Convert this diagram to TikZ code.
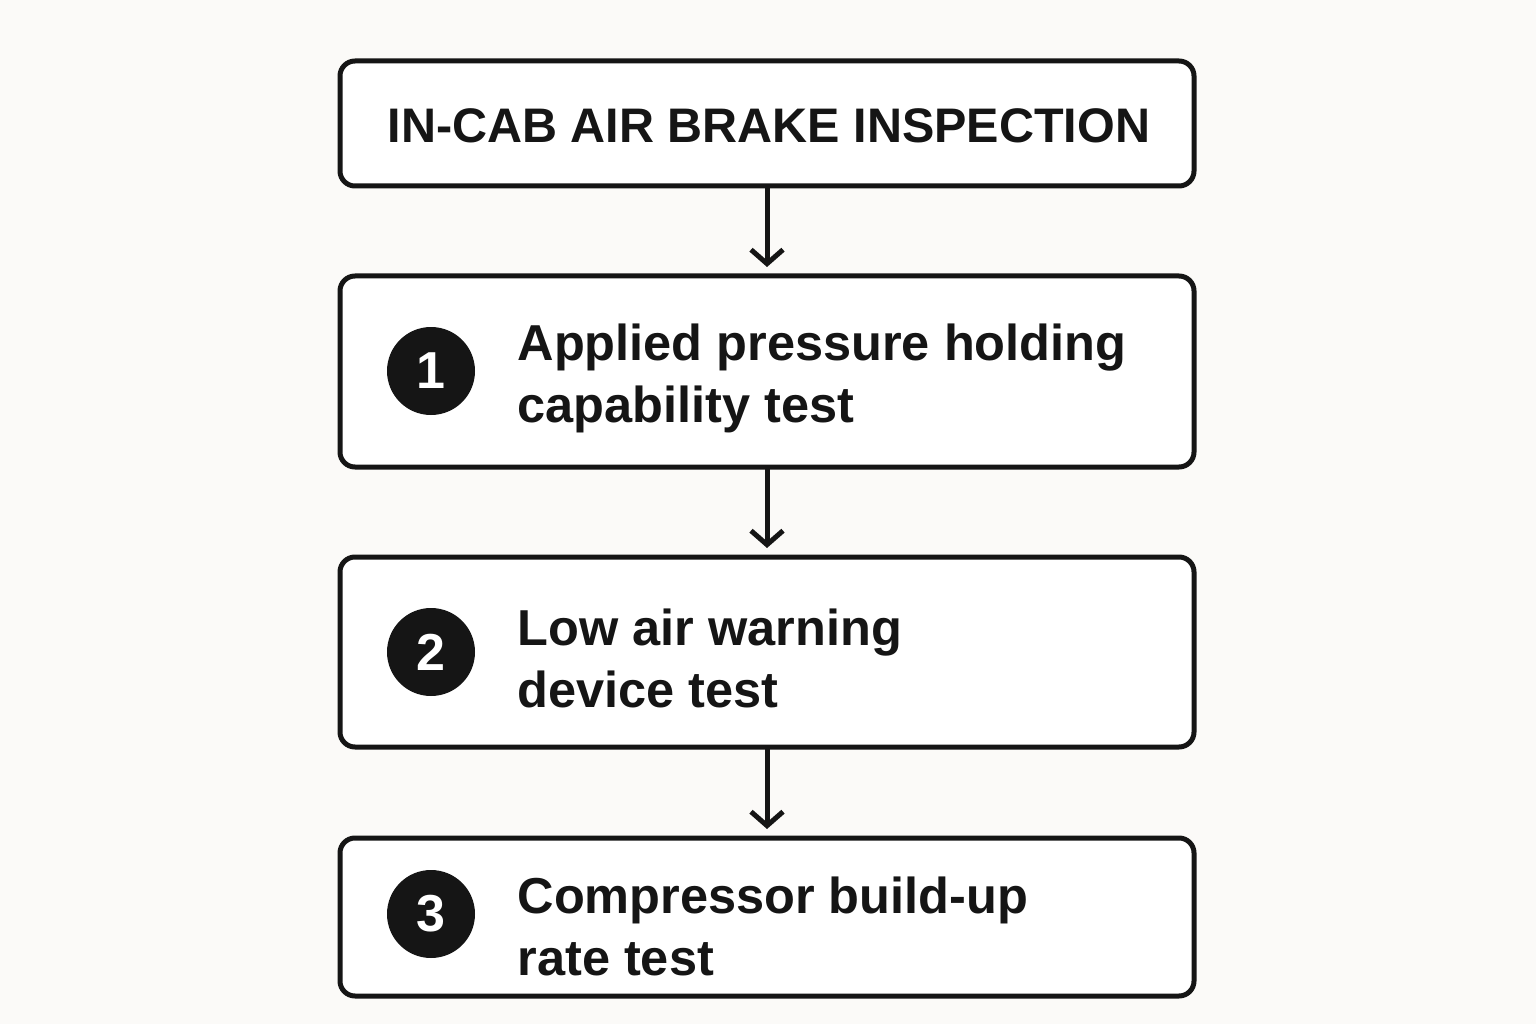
\documentclass[tikz,border=0pt]{standalone}
\usepackage{fontspec}
\setmainfont{Liberation Sans}
\usetikzlibrary{arrows.meta}
\definecolor{bg}{HTML}{FBFAF8}
\definecolor{ink}{HTML}{151515}
\begin{document}
\begin{tikzpicture}[x=1pt,y=-1pt,
  box/.style={draw=ink,line width=5pt,rounded corners=15pt,fill=white},
  num/.style={circle,fill=ink,minimum size=88pt,inner sep=0pt,text=white,font=\fontsize{52}{52}\selectfont\bfseries},
  lbl/.style={anchor=west,align=left,text=ink,font=\fontsize{50.5}{62}\selectfont\bfseries},
  arr/.style={draw=ink,line width=5pt,-{Straight Barb[length=14pt,width=32pt,line width=5pt]}}]
\path[fill=bg] (0,0) rectangle (1536,1024);
\useasboundingbox (0,0) rectangle (1536,1024);
\draw[box] (340,61) rectangle (1194,186);
\node[text=ink,font=\fontsize{48.5}{48}\selectfont\bfseries] (t) at (769,126) {IN-CAB AIR BRAKE INSPECTION};
\draw[box] (340,276) rectangle (1194,467);
\draw[box] (340,557) rectangle (1194,747);
\draw[box] (340,838) rectangle (1194,996);
\node[num] (n1) at (431,371) {1};
\node[num] (n2) at (431,652) {2};
\node[num] (n3) at (431,914) {3};
\node[lbl] (l1) at (514,378) {Applied pressure holding\\capability test};
\node[lbl] (l2) at (514,658) {Low air warning\\device test};
\node[lbl] (l3) at (514,926) {Compressor build-up\\rate test};
\coordinate (a0) at (767,188); \coordinate (a1) at (767,267);
\coordinate (b0) at (767,469); \coordinate (b1) at (767,548);
\coordinate (c0) at (767,749); \coordinate (c1) at (767,829);
\draw[arr] (a0) -- (a1);
\draw[arr] (b0) -- (b1);
\draw[arr] (c0) -- (c1);
\end{tikzpicture}
\end{document}
